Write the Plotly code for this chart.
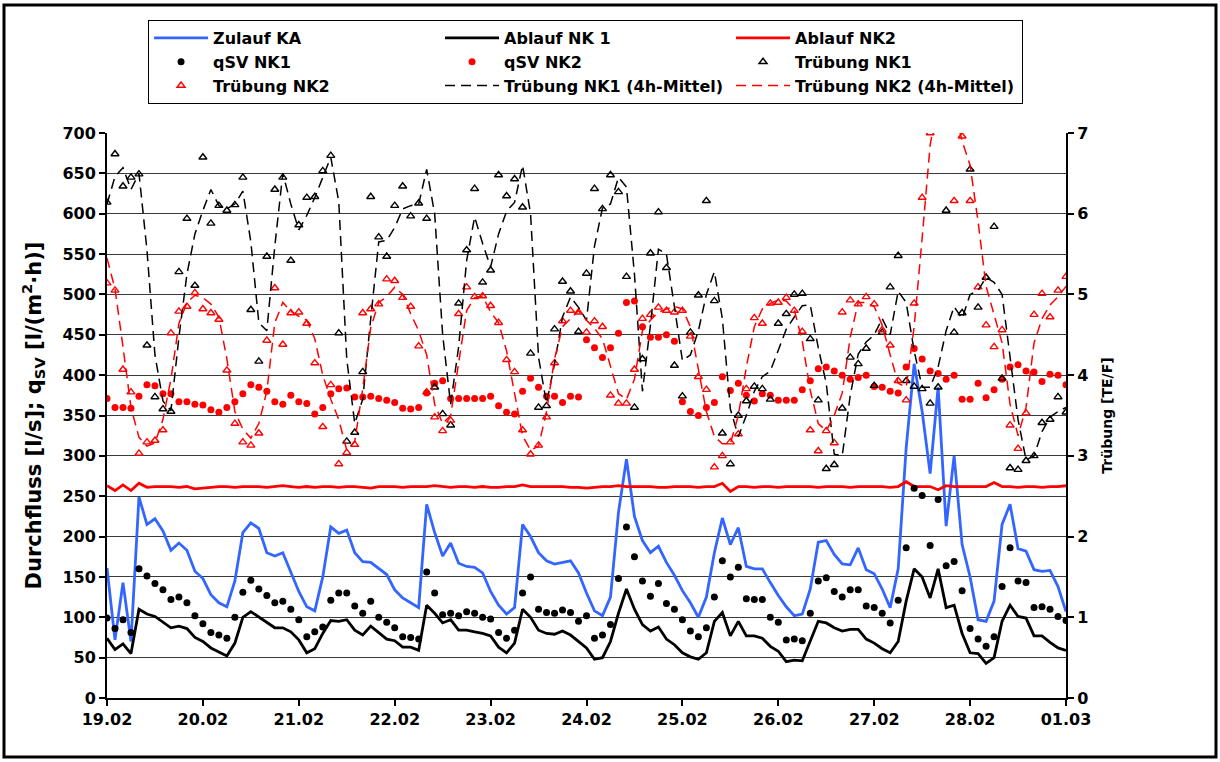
import pandas as pd
import plotly.graph_objects as go

# readings every 2 h, 19.02 00:00 .. 01.03 00:00
zeit = pd.date_range("2009-02-19 00:00", "2009-03-01 00:00", freq="2h")

# Durchfluss [l/s]
zulauf_ka = [
    161, 72, 143, 70, 249, 215, 222, 207, 183, 192, 183, 157,
    148, 128, 118, 113, 145, 205, 217, 210, 180, 176, 180, 157,
    132, 113, 108, 150, 212, 204, 208, 180, 169, 168, 160, 153,
    134, 124, 118, 112, 240, 205, 176, 192, 167, 163, 162, 155,
    132, 115, 104, 112, 215, 200, 180, 170, 166, 168, 170, 155,
    130, 108, 102, 125, 230, 296, 225, 195, 180, 188, 168, 152,
    133, 118, 100, 125, 180, 223, 190, 211, 163, 160, 160, 143,
    127, 113, 102, 104, 135, 193, 195, 178, 166, 165, 186, 159,
    154, 135, 112, 160, 310, 414, 355, 278, 385, 213, 300, 190,
    150, 97, 95, 120, 215, 240, 185, 182, 159, 157, 158, 138,
    107]
ablauf_nk1 = [
    74, 60, 67, 55, 110, 104, 101, 94, 87, 89, 86, 75,
    70, 62, 57, 52, 68, 100, 107, 100, 94, 87, 87, 82,
    72, 56, 61, 80, 96, 95, 97, 84, 78, 89, 81, 73,
    71, 63, 63, 59, 115, 105, 93, 97, 84, 84, 82, 80,
    77, 63, 56, 68, 110, 100, 84, 80, 79, 83, 78, 70,
    62, 48, 50, 70, 105, 135, 110, 91, 83, 88, 73, 66,
    56, 51, 48, 56, 95, 106, 77, 95, 77, 77, 74, 64,
    58, 45, 47, 46, 70, 95, 93, 87, 83, 85, 85, 73,
    68, 61, 56, 70, 120, 160, 150, 124, 160, 112, 115, 80,
    56, 55, 43, 50, 95, 115, 101, 99, 77, 77, 69, 62,
    59]
ablauf_nk2 = [
    263, 257, 264, 257, 266, 261, 262, 262, 262, 261, 262, 259,
    260, 261, 262, 262, 261, 262, 262, 262, 261, 262, 263, 262,
    261, 262, 261, 262, 262, 261, 262, 262, 261, 260, 262, 262,
    262, 261, 262, 262, 262, 263, 262, 261, 262, 262, 261, 262,
    261, 261, 262, 262, 264, 262, 262, 262, 262, 262, 261, 261,
    260, 261, 262, 262, 263, 262, 262, 262, 262, 261, 261, 262,
    262, 262, 261, 262, 262, 266, 256, 262, 262, 261, 262, 262,
    261, 262, 262, 262, 262, 261, 262, 262, 262, 261, 262, 262,
    262, 262, 261, 262, 268, 262, 262, 262, 258, 263, 262, 262,
    262, 262, 262, 267, 262, 262, 261, 262, 262, 261, 262, 262,
    263]

# Oberflaechenbeschickung [l/(m2*h)]
qsv_nk1 = [
    99, 86, 97, 81, 160, 151, 142, 134, 122, 125, 118, 102,
    92, 81, 78, 74, 100, 131, 146, 135, 127, 118, 120, 110,
    97, 76, 82, 88, 121, 130, 130, 114, 105, 120, 100, 94,
    87, 76, 75, 73, 156, 130, 103, 105, 102, 107, 105, 100,
    98, 81, 74, 84, 130, 150, 110, 106, 105, 109, 106, 95,
    102, 74, 78, 91, 148, 212, 175, 145, 126, 142, 117, 110,
    97, 83, 76, 87, 125, 170, 150, 162, 123, 122, 122, 100,
    94, 72, 73, 71, 105, 145, 149, 132, 125, 134, 134, 114,
    112, 105, 93, 121, 186, 260, 251, 189, 246, 164, 169, 133,
    86, 73, 64, 76, 138, 186, 145, 143, 112, 113, 110, 101,
    96]
qsv_nk2 = [
    371, 360, 360, 359, 374, 388, 387, 377, 377, 367, 367, 364,
    363, 357, 354, 360, 367, 377, 388, 385, 380, 367, 364, 375,
    367, 365, 352, 360, 377, 383, 384, 373, 373, 374, 371, 369,
    366, 359, 358, 360, 378, 390, 393, 371, 371, 371, 371, 371,
    374, 362, 354, 352, 380, 396, 385, 374, 374, 366, 374, 373,
    444, 434, 422, 434, 452, 490, 492, 460, 447, 447, 450, 442,
    367, 355, 350, 360, 366, 398, 381, 390, 375, 368, 377, 375,
    369, 369, 369, 382, 393, 408, 410, 405, 400, 395, 397, 400,
    386, 385, 380, 378, 410, 433, 420, 405, 402, 395, 400, 370,
    370, 390, 372, 382, 395, 410, 413, 405, 404, 392, 401, 400,
    388]

# Truebung [TE/F]
truebung_nk1 = [
    6.14, 6.74, 6.34, 6.45, 6.49, 4.37, 3.73, 3.58, 3.55, 5.28, 5.94, 5.11,
    6.70, 5.88, 6.10, 6.04, 6.11, 6.45, 4.81, 4.17, 5.47, 6.30, 6.45, 5.42,
    5.86, 6.20, 6.21, 6.53, 6.72, 4.52, 3.18, 3.29, 4.04, 6.21, 5.71, 5.47,
    6.10, 6.34, 5.97, 6.13, 5.94, 3.85, 3.52, 3.38, 4.89, 5.55, 6.31, 5.15,
    5.30, 6.48, 6.22, 6.43, 6.08, 4.27, 3.60, 3.62, 4.57, 5.16, 5.04, 4.54,
    5.26, 6.31, 6.06, 6.48, 6.27, 5.22, 3.60, 4.20, 5.51, 6.02, 5.33, 4.12,
    3.74, 4.53, 4.99, 6.16, 4.92, 3.28, 2.90, 3.50, 3.68, 3.86, 3.83, 3.70,
    4.64, 4.76, 5.00, 5.01, 4.45, 3.69, 2.84, 2.89, 3.59, 4.22, 4.14, 4.33,
    3.87, 4.53, 5.09, 5.48, 3.93, 3.86, 3.83, 3.65, 3.85, 6.04, 4.53, 4.77,
    6.55, 4.84, 5.21, 5.84, 3.96, 2.85, 2.83, 2.94, 3.00, 3.41, 3.45, 3.73,
    3.54]
truebung_nk2 = [
    5.14, 5.05, 4.07, 3.79, 3.03, 3.17, 3.19, 3.32, 4.52, 4.79, 4.85, 5.02,
    4.82, 4.77, 4.69, 4.06, 3.40, 3.17, 3.13, 3.28, 4.43, 5.08, 4.38, 4.77,
    4.78, 4.64, 4.15, 3.36, 3.88, 2.90, 3.04, 3.14, 4.77, 4.82, 4.88, 5.19,
    5.17, 4.96, 4.85, 4.36, 3.79, 3.48, 3.31, 3.44, 4.76, 5.09, 4.97, 4.98,
    4.86, 4.65, 4.19, 4.04, 3.32, 3.02, 3.13, 3.48, 4.15, 4.67, 4.80, 4.78,
    4.53, 4.67, 4.60, 3.75, 3.65, 3.65, 4.07, 4.70, 4.75, 4.84, 4.80, 4.78,
    4.80, 4.48, 3.98, 3.82, 2.86, 3.00, 3.17, 3.27, 3.83, 4.71, 4.64, 4.89,
    4.90, 4.96, 4.80, 4.54, 3.32, 3.06, 3.31, 3.16, 4.78, 4.93, 4.88, 4.97,
    4.88, 4.56, 4.37, 3.93, 3.69, 4.89, 6.20, 7.00, None, None, 6.16, 6.96,
    6.16, 5.09, 4.62, 4.35, 4.56, 3.38, 3.09, 3.53, 4.75, 5.01, 4.72, 5.05,
    5.22]
truebung_nk1_4h = [
    6.12, 6.46, 6.57, 6.30, 6.50, 5.55, 4.25, 3.68, 3.56, 4.47, 5.25, 5.75,
    6.04, 6.30, 6.10, 6.06, 6.12, 6.28, 5.65, 4.65, 4.55, 5.60, 6.50, 6.12,
    5.80, 5.98, 6.20, 6.45, 6.70, 6.15, 4.20, 3.40, 3.70, 4.70, 5.65, 5.67,
    5.83, 6.06, 6.10, 6.12, 6.55, 6.00, 4.50, 3.64, 4.35, 5.42, 5.96, 5.63,
    5.34, 5.75, 6.03, 6.14, 6.60, 6.00, 4.22, 3.65, 4.14, 4.72, 4.97, 4.84,
    4.68, 5.60, 6.07, 6.12, 6.45, 6.33, 5.25, 3.80, 4.62, 5.56, 5.50, 4.85,
    4.18, 4.25, 4.55, 5.00, 5.28, 4.70, 3.58, 3.24, 3.50, 3.80, 3.98, 4.05,
    4.30, 4.57, 4.72, 4.86, 4.87, 4.34, 3.90, 3.02, 3.00, 3.75, 4.26, 4.41,
    4.50, 4.70, 4.50, 5.04, 4.90, 4.30, 3.85, 3.85, 4.10, 4.55, 4.85, 4.70,
    5.00, 5.05, 5.21, 5.15, 5.00, 4.22, 3.45, 2.95, 3.00, 3.30, 3.48, 3.55,
    3.60]
truebung_nk2_4h = [
    5.45, 5.07, 4.35, 3.60, 3.23, 3.12, 3.16, 3.45, 3.95, 4.64, 4.90, 4.99,
    4.96, 4.88, 4.72, 4.20, 3.55, 3.33, 3.22, 3.40, 3.80, 4.65, 4.90, 4.79,
    4.73, 4.68, 4.45, 4.00, 3.70, 3.45, 3.07, 3.18, 3.83, 4.59, 4.90, 4.97,
    5.09, 5.00, 4.76, 4.55, 4.25, 3.64, 3.40, 3.50, 4.15, 4.80, 4.96, 4.98,
    4.78, 4.65, 4.30, 3.75, 3.25, 3.07, 3.12, 3.55, 4.20, 4.60, 4.70, 4.80,
    4.68, 4.58, 4.45, 4.10, 3.77, 3.70, 3.95, 4.55, 4.68, 4.78, 4.82, 4.85,
    4.82, 4.60, 4.05, 3.55, 3.24, 3.15, 3.15, 3.50, 4.10, 4.60, 4.82, 4.89,
    4.93, 4.92, 4.81, 4.42, 3.81, 3.40, 3.31, 3.50, 3.78, 4.47, 4.90, 4.90,
    4.85, 4.62, 4.25, 3.90, 3.85, 4.60, 5.70, 6.85, 7.40, 7.60, 7.30, 6.90,
    6.60, 5.90, 5.10, 4.75, 4.40, 3.64, 3.25, 3.60, 4.40, 4.70, 4.87, 4.97,
    5.10]

BLAU = "#3366ff"
ROT = "#ff0000"
FONT = dict(family="DejaVu Sans", size=16, color="black", weight="bold")

fig = go.Figure()

fig.add_trace(go.Scatter(x=zeit, y=zulauf_ka, name="Zulauf KA", mode="lines",
                         line=dict(color=BLAU, width=2.8)))
fig.add_trace(go.Scatter(x=zeit, y=ablauf_nk1, name="Ablauf NK 1", mode="lines",
                         line=dict(color="black", width=2.8)))
fig.add_trace(go.Scatter(x=zeit, y=ablauf_nk2, name="Ablauf NK2", mode="lines",
                         line=dict(color=ROT, width=2.8)))
fig.add_trace(go.Scatter(x=zeit, y=qsv_nk1, name="qSV NK1", mode="markers",
                         marker=dict(color="black", size=7)))
fig.add_trace(go.Scatter(x=zeit, y=qsv_nk2, name="qSV NK2", mode="markers",
                         marker=dict(color=ROT, size=7)))
fig.add_trace(go.Scatter(x=zeit, y=truebung_nk1, name="Trübung NK1", mode="markers",
                         yaxis="y2",
                         marker=dict(symbol="triangle-up-open", color="black", size=7,
                                     line=dict(width=1.4))))
fig.add_trace(go.Scatter(x=zeit, y=truebung_nk2, name="Trübung NK2", mode="markers",
                         yaxis="y2",
                         marker=dict(symbol="triangle-up-open", color=ROT, size=7,
                                     line=dict(width=1.4))))
fig.add_trace(go.Scatter(x=zeit, y=truebung_nk1_4h, name="Trübung NK1 (4h-Mittel)",
                         mode="lines", yaxis="y2",
                         line=dict(color="black", width=1.5, dash="10px,6px")))
fig.add_trace(go.Scatter(x=zeit, y=truebung_nk2_4h, name="Trübung NK2 (4h-Mittel)",
                         mode="lines", yaxis="y2",
                         line=dict(color=ROT, width=1.5, dash="10px,6px")))

fig.update_layout(
    width=1220, height=762,
    margin=dict(l=107, r=154, t=133, b=64),
    paper_bgcolor="white", plot_bgcolor="white",
    font=FONT,
    showlegend=True,
    legend=dict(orientation="h", x=0.0428, y=1.2, xanchor="left", yanchor="top",
                bordercolor="black", borderwidth=1, bgcolor="white",
                itemwidth=54, entrywidth=222, entrywidthmode="pixels",
                font=FONT),
    xaxis=dict(type="date", range=["2009-02-19", "2009-03-01"],
               dtick=86400000, tick0="2009-02-19", tickformat="%d.%m",
               showgrid=False, showline=True, linecolor="black", linewidth=2,
               ticks="outside", ticklen=6, tickcolor="black", tickwidth=1.5,
               tickfont=FONT),
    yaxis=dict(range=[0, 700], dtick=50, showgrid=True, gridcolor="#3a3a3a",
               gridwidth=1, zeroline=False,
               showline=True, linecolor="black", linewidth=2,
               ticks="outside", ticklen=6, tickcolor="black", tickwidth=1.5,
               tickfont=FONT,
               title=dict(text="Durchfluss [l/s]; q<sub>SV</sub> [l/(m<sup>2</sup>·h)]",
                          font=dict(family="DejaVu Sans", size=21, color="black",
                                    weight="bold"))),
    yaxis2=dict(range=[0, 7], dtick=1, overlaying="y", side="right",
                showgrid=False, zeroline=False,
                showline=True, linecolor="black", linewidth=2,
                ticks="outside", ticklen=6, tickcolor="black", tickwidth=1.5,
                tickfont=FONT,
                title=dict(text="Trübung [TE/F]",
                           font=dict(family="DejaVu Sans", size=14, color="black",
                                     weight="bold"))),
    shapes=[dict(type="rect", xref="paper", yref="paper",
                 x0=-0.1074, x1=1.1564, y0=-0.1044, y1=1.2265,
                 line=dict(color="black", width=3), layer="below")],
)

# page body without its default 8px margin, so the figure fills the window
fig.write_html("out.html", config={"displayModeBar": False},
               post_script="document.body.style.margin = '0';")
